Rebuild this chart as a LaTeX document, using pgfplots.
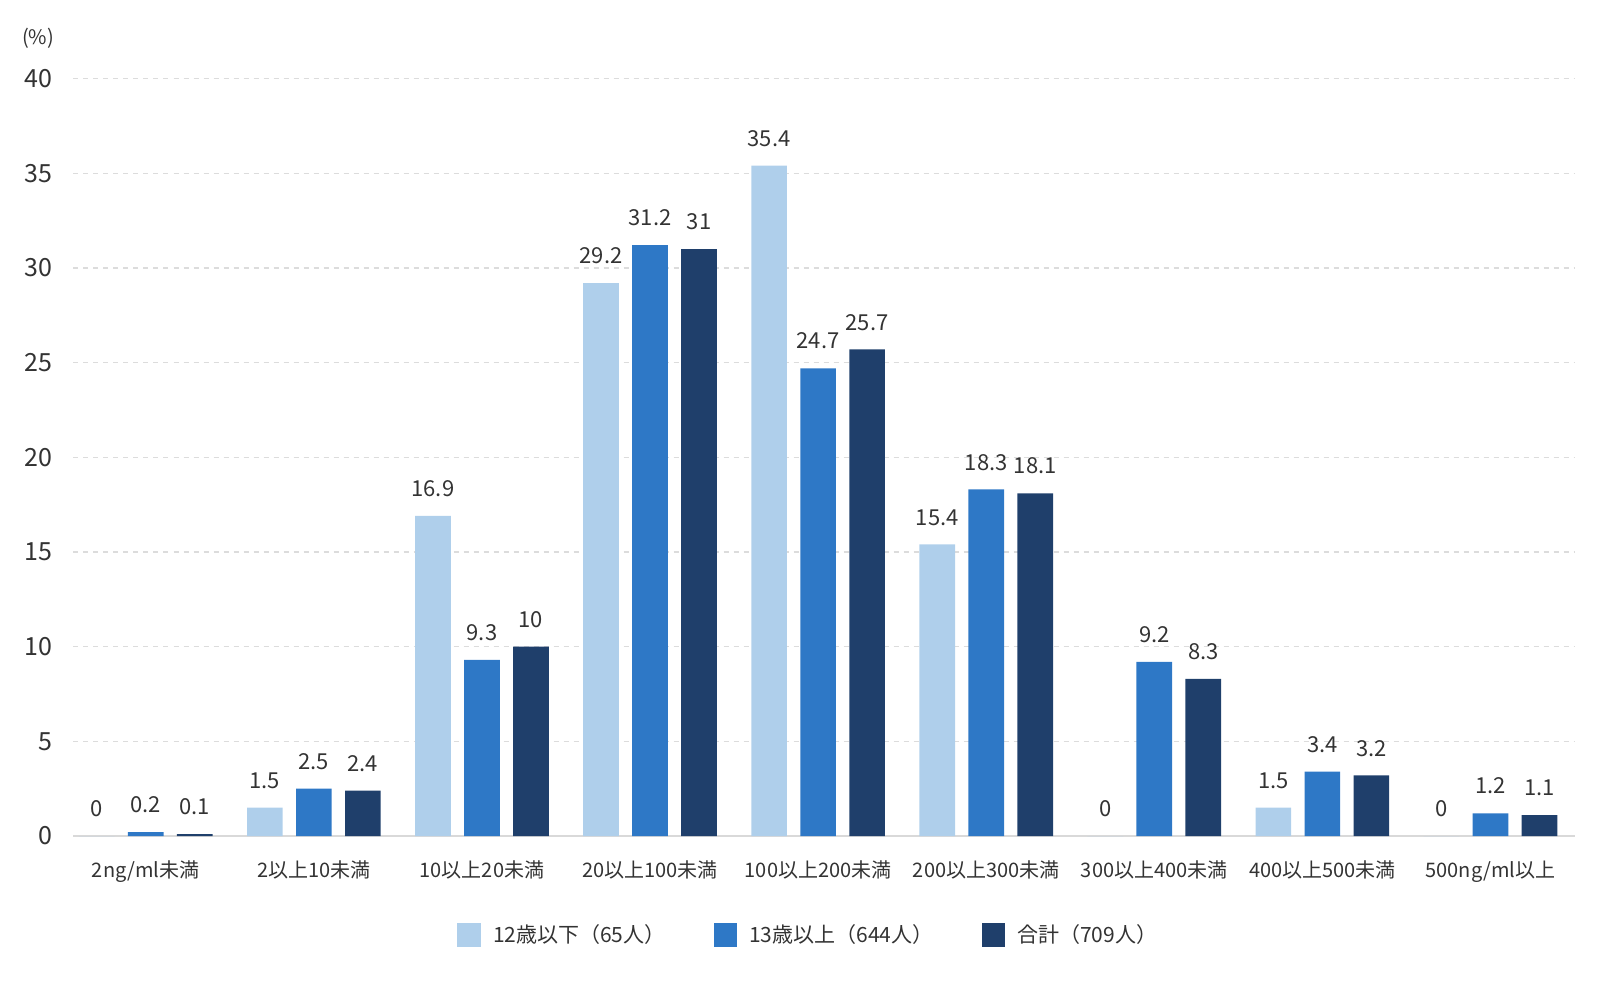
\documentclass[border=0pt]{standalone}
\usepackage{pgfplots}
\pgfplotsset{compat=1.18}
\usepackage{fontspec}
\setmainfont{Noto Sans CJK JP}
\definecolor{cLight}{HTML}{AFCFEB}
\definecolor{cMid}{HTML}{2E78C6}
\definecolor{cDark}{HTML}{1F3F6B}
\definecolor{txt}{HTML}{333333}
\definecolor{gridc}{HTML}{DCDCDC}
\begin{document}
\begin{tikzpicture}
\useasboundingbox (-36.75pt,-72pt) rectangle (763.25pt,418pt);
\begin{axis}[
  at={(0,0)}, anchor=south west,
  scale only axis,
  width=750.75pt, height=378.7pt,
  ymin=0, ymax=40, ytick={0,5,...,40},
  xmin=-0.43, xmax=8.503,
  xtick={0,...,8},
  xticklabels={2ng/ml未満,2以上10未満,10以上20未満,20以上100未満,100以上200未満,200以上300未満,300以上400未満,400以上500未満,500ng/ml以上},
  /pgf/number format/assume math mode=true,
  axis lines=left,
  y axis line style={draw=none},
  x axis line style={draw=black!15, line width=0.8pt, -},
  major tick length=0pt,
  ymajorgrids,
  grid style={gridc, dash pattern=on 2.5pt off 2.5pt, line width=0.6pt},
  yticklabel style={font=\fontsize{12.5}{14}\selectfont, text=txt, xshift=-7pt},
  xticklabel style={font=\fontsize{10}{11}\selectfont, text=txt, yshift=-9pt},
  ybar, bar width=17.85pt,
  nodes near coords,
  every node near coord/.append style={font=\fontsize{11}{12}\selectfont, text=txt, yshift=6pt},
  clip=false,
  legend style={at={(0.49,-0.131)}, anchor=center, draw=none, fill=none,
    legend columns=3, font=\fontsize{10.5}{12}\selectfont, text=txt,
    /tikz/every even column/.append style={column sep=22pt},
    /tikz/every odd column/.append style={column sep=4pt}},
  legend image code/.code={\fill[#1] (0pt,-5.9pt) rectangle (11.8pt,5.9pt);},
]
\addplot[fill=cLight, draw=none, bar shift=-24.5pt] coordinates {(0,0) (1,1.5) (2,16.9) (3,29.2) (4,35.4) (5,15.4) (6,0) (7,1.5) (8,0)};
\addplot[fill=cMid, draw=none, bar shift=0pt] coordinates {(0,0.2) (1,2.5) (2,9.3) (3,31.2) (4,24.7) (5,18.3) (6,9.2) (7,3.4) (8,1.2)};
\addplot[fill=cDark, draw=none, bar shift=24.5pt] coordinates {(0,0.1) (1,2.4) (2,10) (3,31) (4,25.7) (5,18.1) (6,8.3) (7,3.2) (8,1.1)};
\legend{12歳以下（65人）,13歳以上（644人）,合計（709人）}
\end{axis}
\node[font=\fontsize{10}{12}\selectfont, text=txt] at (-17.7pt,399pt) {(\%)};
\end{tikzpicture}
\end{document}
